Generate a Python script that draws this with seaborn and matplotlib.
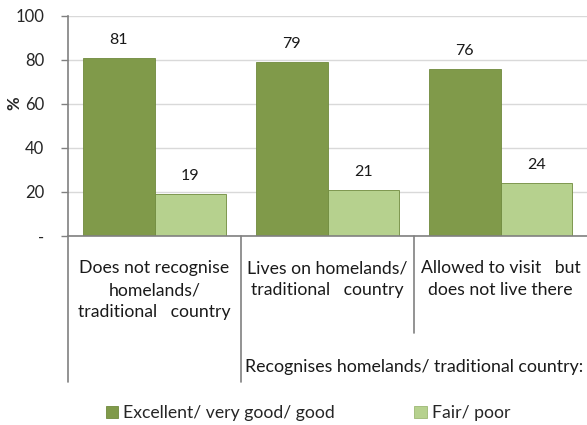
import numpy as np
import pandas as pd
import matplotlib
matplotlib.use("Agg")
from matplotlib import pyplot as plt
import seaborn as sns

# data
groups = ["Does not recognise\nhomelands/\ntraditional   country",
          "Lives on homelands/\ntraditional   country",
          "Allowed to visit   but\ndoes not live there"]
series = ["Excellent/ very good/ good", "Fair/ poor"]
good = [81, 79, 76]
fair = [19, 21, 24]
yticks = [0, 20, 40, 60, 80, 100]
ytick_labels = ["-", "20", "40", "60", "80", "100"]
super_label = "Recognises homelands/ traditional country:"

df = pd.DataFrame({
    "group": groups * 2,
    "rating": [series[0]] * 3 + [series[1]] * 3,
    "pct": good + fair,
})

sns.set_style("white")
plt.rcParams["font.family"] = ["Lato", "DejaVu Sans"]

fig = plt.figure(figsize=(5.87, 4.25), dpi=100)
ax = fig.add_axes([68 / 587, 189 / 425, 519 / 587, 220 / 425])

pal = ["#809A4A", "#B6D18E"]
sns.barplot(data=df, x="group", y="pct", hue="rating", palette=pal,
            width=0.83, ax=ax, legend=False, saturation=1,
            edgecolor="#6F8A3C", linewidth=0.6)
for bars in ax.containers:
    ax.bar_label(bars, fmt="%d", padding=8, fontsize=11.5, color="#1a1a1a")

ax.set_xlim(-0.5, 2.5)
ax.set_ylim(0, 100)
ax.set_yticks(yticks)
ax.set_yticklabels(ytick_labels, fontsize=12)
ax.yaxis.grid(True, color="#D9D9D9", lw=1)
ax.set_axisbelow(True)
ax.tick_params(axis="y", length=5, width=1, color="#808080", pad=12, left=True)
ax.set_xticks([])
ax.set_xlabel("")
ax.set_ylabel("%", fontsize=12, fontweight="bold")
ax.yaxis.set_label_coords(-46 / 519, 133 / 220)
for s in ["top", "right"]:
    ax.spines[s].set_visible(False)
ax.spines["left"].set_color("#808080")
ax.spines["bottom"].set_color("#808080")
ax.spines["left"].set_linewidth(1.2)
ax.spines["bottom"].set_linewidth(1.2)

# category labels and separators (multi-level axis)
trans = ax.get_xaxis_transform()
for i, g in enumerate(groups):
    ax.text(i, -0.11, g, transform=trans, ha="center", va="top",
            fontsize=12.7, linespacing=1.45, color="#1a1a1a")
ax.plot([-0.5, -0.5], [0, -146 / 220], transform=trans, color="#808080", lw=1.2, clip_on=False)
ax.plot([0.5, 0.5], [0, -146 / 220], transform=trans, color="#808080", lw=1.2, clip_on=False)
ax.plot([1.5, 1.5], [0, -97 / 220], transform=trans, color="#808080", lw=1.2, clip_on=False)
ax.text(1.5, -136 / 220, super_label, transform=trans, ha="center", va="baseline",
        fontsize=12.8, color="#1a1a1a")

# legend
handles = [plt.Rectangle((0, 0), 1, 1, fc=pal[0], ec="#6F8A3C", lw=0.6),
           plt.Rectangle((0, 0), 1, 1, fc=pal[1], ec="#9DB874", lw=0.6)]
fig.legend(handles, series, loc="center", bbox_to_anchor=(308 / 587, 1 - 413 / 425),
           ncol=2, frameon=False, fontsize=12.7, handlelength=0.7, handleheight=0.7,
           handletextpad=0.3, columnspacing=4.5)

fig.savefig("out.png", dpi=100)
